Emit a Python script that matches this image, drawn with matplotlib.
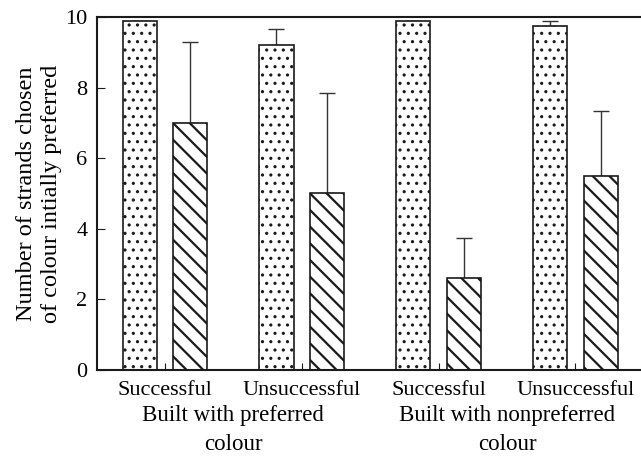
import matplotlib
matplotlib.use("Agg")
import matplotlib.pyplot as plt
import numpy as np

plt.rcParams['font.family'] = ['Liberation Serif', 'DejaVu Serif']
plt.rcParams['hatch.color'] = '#1a1a1a'

conditions = ["Successful", "Unsuccessful", "Successful", "Unsuccessful"]
groups = ["Built with preferred\ncolour", "Built with nonpreferred\ncolour"]
dotted_vals = [9.9, 9.2, 9.9, 9.75]
dotted_err = [0.0, 0.45, 0.0, 0.15]
hatched_vals = [7.0, 5.0, 2.6, 5.5]
hatched_err = [2.3, 2.85, 1.15, 1.85]

fig = plt.figure(figsize=(6.41, 4.57), dpi=100)
ax = fig.add_axes([0.1513, 0.1904, 0.8487, 0.7724])

x = np.arange(len(conditions))
w = 0.25
off = 0.185
dotted = ax.bar(x - off, dotted_vals, w, color='white', edgecolor='#1a1a1a',
                linewidth=1.2, hatch='..', zorder=2)
hatched = ax.bar(x + off, hatched_vals, w, color='white', edgecolor='#1a1a1a',
                 linewidth=1.2, hatch='\\\\', zorder=2)
for p in dotted:
    p.set_hatch_linewidth(1.1)
for p in hatched:
    p.set_hatch_linewidth(1.6)
ax.errorbar(x - off, dotted_vals, yerr=[np.zeros(4), dotted_err], fmt='none',
            ecolor='#333333', elinewidth=1.0, capsize=6, capthick=1.0, zorder=1)
ax.errorbar(x + off, hatched_vals, yerr=[np.zeros(4), hatched_err], fmt='none',
            ecolor='#333333', elinewidth=1.0, capsize=6, capthick=1.0, zorder=1)

ax.set_xlim(-0.497, 3.48)
ax.set_ylim(0, 10)
ax.set_yticks([0, 2, 4, 6, 8, 10])
ax.set_xticks(x)
ax.set_xticklabels(conditions)
ax.tick_params(axis='both', direction='in', labelsize=16, color='#1a1a1a')
ax.tick_params(axis='y', length=6, pad=7)
ax.tick_params(axis='x', length=5, pad=8)
for s in ['left', 'top', 'bottom']:
    ax.spines[s].set_linewidth(1.5)
    ax.spines[s].set_color('#1a1a1a')
ax.spines['right'].set_visible(False)

ax.set_ylabel("Number of strands chosen\nof colour intially preferred",
              fontsize=17.5, labelpad=2, linespacing=1.25)

for gi, g in enumerate(groups):
    xc = (x[2 * gi] + x[2 * gi + 1]) / 2
    ax.text(xc, -0.1, g, transform=ax.get_xaxis_transform(), ha='center',
            va='top', fontsize=16.5, linespacing=1.5)

fig.savefig("out.png", dpi=100)
